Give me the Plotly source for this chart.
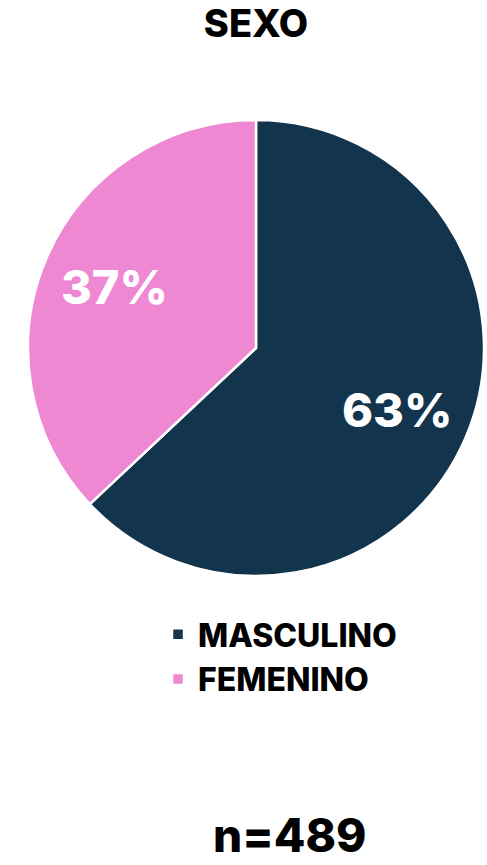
import math
import plotly.graph_objects as go

labels = ["MASCULINO", "FEMENINO"]
values = [63, 37]
colors = ["#12344D", "#EE88D3"]
title_text = "SEXO"
n_text = "n=489"

W, H = 487, 865
FONT = "Inter"

cx, cy, R = 256, 348, 228
fig = go.Figure(go.Pie(
    labels=labels, values=values, sort=False, direction="clockwise", rotation=0,
    marker=dict(colors=colors, line=dict(color="white", width=2.5)),
    textinfo="none",
    hoverinfo="label+percent",
    domain=dict(x=[(cx - R)/W, (cx + R)/W], y=[(H-(cy + R))/H, (H-(cy - R))/H]),
))

# percent labels placed along each slice's bisector
annots = []
total = sum(values)
cum = 0
for v in values:
    mid = (cum + v/2) / total * 2 * math.pi
    cum += v
    px = cx + 0.675 * R * math.sin(mid)
    py = cy - 0.675 * R * math.cos(mid)
    annots.append(dict(text=f"{round(v/total*100)}%", x=px/W, y=(H-py)/H, xref="paper", yref="paper",
                       xanchor="center", yanchor="middle", showarrow=False,
                       font=dict(family=FONT, size=47, color="white", weight=800)))

annots.append(dict(text=n_text, x=289/W, y=0, xref="paper", yref="paper",
                   xanchor="center", yanchor="bottom", showarrow=False,
                   font=dict(family=FONT, size=46, color="black", weight=800)))

fig.update_layout(
    width=W, height=H, margin=dict(l=0, r=0, t=0, b=0),
    paper_bgcolor="white", plot_bgcolor="white",
    title=dict(text=title_text, x=256/W, xanchor="center", y=1-24/H, yanchor="middle",
               font=dict(family=FONT, size=38, color="black", weight=800)),
    legend=dict(x=158/W, xanchor="left", y=(H-607)/H, yanchor="top",
                font=dict(family=FONT, size=32, color="black", weight=800),
                bgcolor="rgba(0,0,0,0)"),
    annotations=annots,
)

fig.write_html("out.html", config={"displayModeBar": False},
               post_script="document.body.style.margin='0';document.body.style.overflow='hidden';")
